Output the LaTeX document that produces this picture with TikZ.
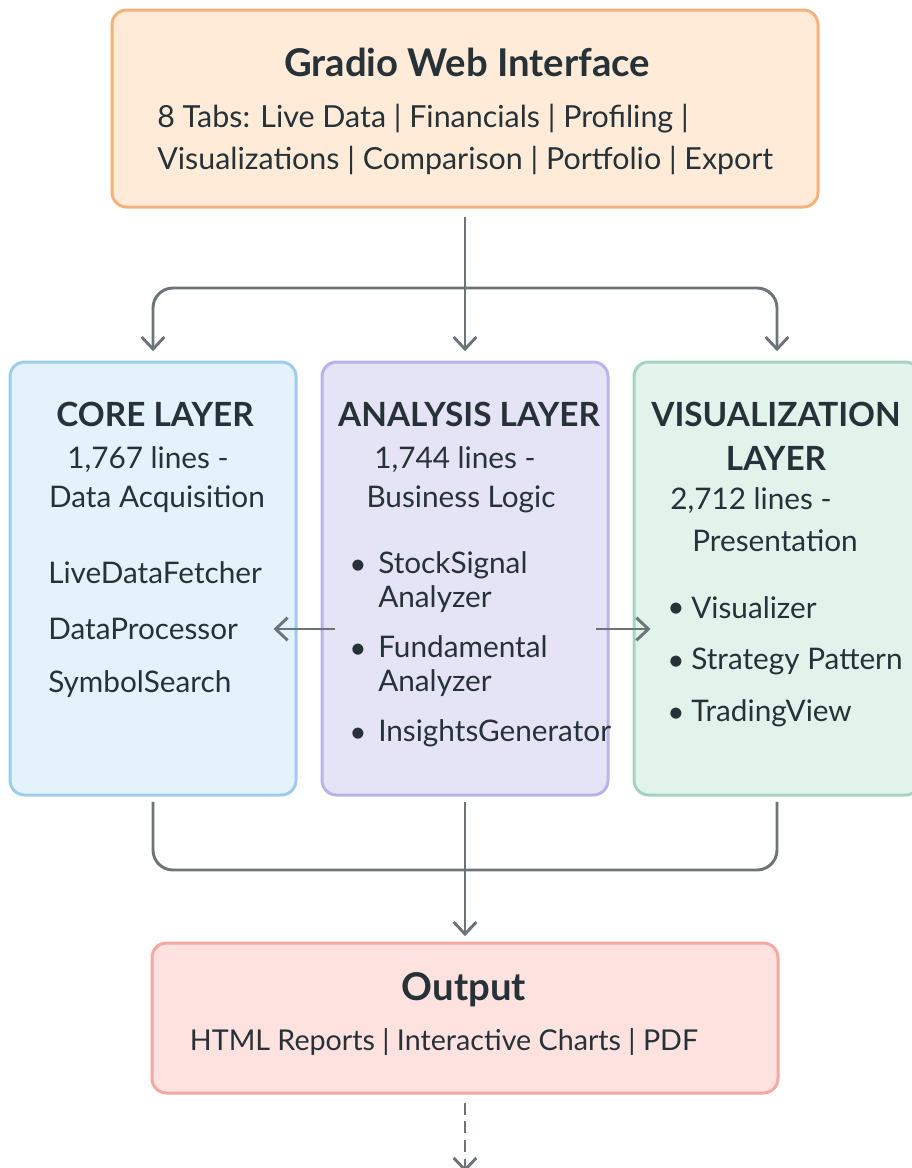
\documentclass[tikz,border=0pt]{standalone}
\usepackage{fontspec}
\setmainfont{Lato}
\usetikzlibrary{arrows.meta,positioning,calc}
\definecolor{txtdark}{HTML}{263238}
\definecolor{arrgray}{HTML}{6E7377}
\definecolor{guifill}{HTML}{FFEBD8}
\definecolor{guiline}{HTML}{F6B27C}
\definecolor{corefill}{HTML}{E4F2FB}
\definecolor{coreline}{HTML}{9DCDEA}
\definecolor{anafill}{HTML}{E5E4F6}
\definecolor{analine}{HTML}{B8B4E8}
\definecolor{visfill}{HTML}{E2F3EC}
\definecolor{visline}{HTML}{A5D3C0}
\definecolor{outfill}{HTML}{FDE2E0}
\definecolor{outline}{HTML}{F3A8A4}
\newcommand{\bigtitle}{\fontsize{28.7}{34}\selectfont\bfseries}
\newcommand{\layertitle}{\fontsize{25}{33}\selectfont\bfseries}
\newcommand{\subtext}{\fontsize{22.8}{31}\selectfont}
\newcommand{\outtext}{\fontsize{21.5}{31}\selectfont}
\newcommand{\itemtext}{\fontsize{22.3}{25.5}\selectfont}

\begin{document}
\begin{tikzpicture}[x=0.75pt,y=-0.75pt,
  box/.style={draw,line width=2.25pt,rounded corners=11pt,inner sep=0pt},
  txt/.style={text=txtdark,inner sep=0pt},
  arr/.style={draw=arrgray,line width=2.2pt,-{Straight Barb[length=9pt,width=17pt,line width=2.2pt]}},
  link/.style={draw=arrgray,line width=2.2pt}]

  \useasboundingbox (0,0) rectangle (911,1168);

  % boxes
  \node[box,draw=guiline,fill=guifill,minimum width=529.5pt,minimum height=147.75pt] (gui) at (465,108.5) {};
  \node[box,draw=coreline,fill=corefill,minimum width=214.5pt,minimum height=324.75pt] (core) at (153,578.5) {};
  \node[box,draw=analine,fill=anafill,minimum width=214.5pt,minimum height=324.75pt] (analysis) at (465,578.5) {};
  \node[box,draw=visline,fill=visfill,minimum width=214.5pt,minimum height=324.75pt] (vis) at (777,578.5) {};
  \node[box,draw=outline,fill=outfill,minimum width=469.5pt,minimum height=112.5pt] (output) at (465,1018) {};

  % top box text
  \node[txt,font=\bigtitle] (guititle) at (467,62) {Gradio Web Interface};
  \node[txt,font=\subtext,anchor=west] (guitabs1) at (157,119) {8 Tabs: Live Data | Financials | Profiling |};
  \node[txt,font=\subtext,anchor=west] (guitabs2) at (157,160) {Visualizations | Comparison | Portfolio | Export};

  % core layer
  \node[txt,font=\layertitle] (coretitle) at (155,414) {CORE LAYER};
  \node[txt,font=\itemtext] (corelines) at (148,460) {1,767 lines -};
  \node[txt,font=\itemtext] (corerole) at (157,499) {Data Acquisition};
  \node[txt,font=\itemtext,anchor=west] (fetcher) at (48,573) {LiveDataFetcher};
  \node[txt,font=\itemtext,anchor=west] (processor) at (48,629) {DataProcessor};
  \node[txt,font=\itemtext,anchor=west] (search) at (48,684) {SymbolSearch};

  % analysis layer
  \node[txt,font=\layertitle] (anatitle) at (469,414) {ANALYSIS LAYER};
  \node[txt,font=\itemtext] (analines) at (455,460) {1,744 lines -};
  \node[txt,font=\itemtext] (anarole) at (461,499) {Business Logic};
  \node[txt,font=\itemtext] (bulA) at (358,567) {\textbullet};
  \node[txt,font=\itemtext,anchor=west,align=left] (signal) at (378,582) {StockSignal\\Analyzer};
  \node[txt,font=\itemtext] (bulB) at (358,651) {\textbullet};
  \node[txt,font=\itemtext,anchor=west,align=left] (fundamental) at (378,666) {Fundamental\\Analyzer};
  \node[txt,font=\itemtext] (bulC) at (358,735) {\textbullet};
  \node[txt,font=\itemtext,anchor=west] (insights) at (378,733) {InsightsGenerator};

  % visualization layer
  \node[txt,font=\layertitle] (vistitle1) at (776,414) {VISUALIZATION};
  \node[txt,font=\layertitle] (vistitle2) at (776,458) {LAYER};
  \node[txt,font=\itemtext,anchor=west] (vislines) at (670,501) {2,712 lines -};
  \node[txt,font=\itemtext] (visrole) at (775,541) {Presentation};
  \node[txt,font=\itemtext] (bulD) at (676,610) {\textbullet};
  \node[txt,font=\itemtext,anchor=west] (visualizer) at (691,608) {Visualizer};
  \node[txt,font=\itemtext] (bulE) at (676,663) {\textbullet};
  \node[txt,font=\itemtext,anchor=west] (strategy) at (691,661) {Strategy Pattern};
  \node[txt,font=\itemtext] (bulF) at (676,715) {\textbullet};
  \node[txt,font=\itemtext,anchor=west] (tradingview) at (691,713) {TradingView};

  % output box text
  \node[txt,font=\bigtitle] (outtitle) at (464,990) {Output};
  \node[txt,font=\outtext] (outlist) at (444,1042) {HTML Reports | Interactive Charts | PDF};

  % connectors
  \coordinate (split) at (465,288);
  \coordinate (merge) at (465,870);
  \coordinate (more) at (465,1172);
  \draw[arr,shorten <=6pt,shorten >=7pt] (gui.south) -- (analysis.north);
  \draw[arr,rounded corners=15pt,shorten >=7pt] (split) -| (core.north);
  \draw[arr,rounded corners=15pt,shorten >=7pt] (split) -| (vis.north);
  \draw[link,rounded corners=15pt,shorten <=4pt] (core.south) |- (merge);
  \draw[link,rounded corners=15pt,shorten <=4pt] (vis.south) |- (merge);
  \draw[arr,shorten <=4pt,shorten >=4pt] (analysis.south) -- (output.north);
  \draw[arr,dashed,dash pattern=on 9pt off 5pt,shorten <=6pt] (output.south) -- (more);
  \draw[arr] ($(analysis.west)+(14,50.5)$) -- ($(core.east)+(-24,50.5)$);
  \draw[arr] ($(analysis.east)+(-14,50.5)$) -- ($(vis.west)+(18,50.5)$);

\end{tikzpicture}
\end{document}
